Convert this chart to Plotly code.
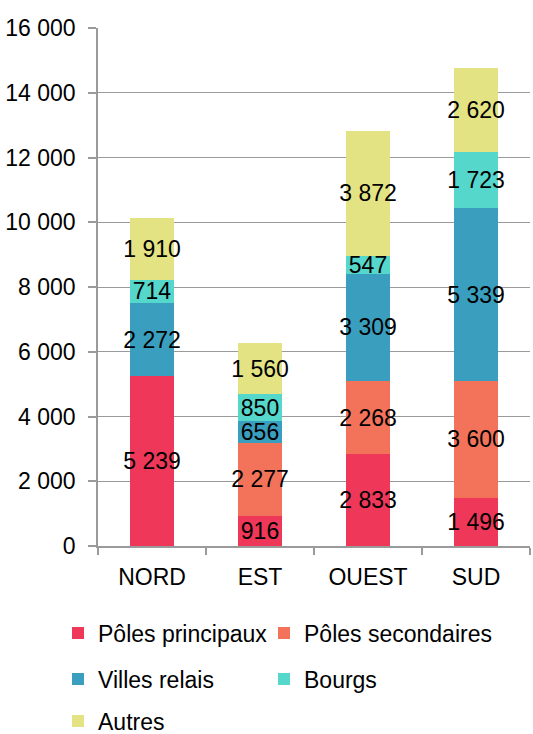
import plotly.graph_objects as go

# Regions on the x axis
categories = ["NORD", "EST", "OUEST", "SUD"]

# Stacked series (None = no segment)
series_names = ["Pôles principaux", "Pôles secondaires", "Villes relais", "Bourgs", "Autres"]
poles_principaux = [5239, 916, 2833, 1496]
poles_secondaires = [None, 2277, 2268, 3600]
villes_relais = [2272, 656, 3309, 5339]
bourgs = [714, 850, 547, 1723]
autres = [1910, 1560, 3872, 2620]

y_tick_values = [0, 2000, 4000, 6000, 8000, 10000, 12000, 14000, 16000]

colors = ["#EF3859", "#F2735A", "#3A9FBF", "#55D8CB", "#E3E384"]
values = [poles_principaux, poles_secondaires, villes_relais, bourgs, autres]

# Legend grid: two columns, three rows (pixel anchors of each entry)
legend_ids = ["legend", "legend2", "legend3", "legend4", "legend5"]
legend_px = [(58, 633), (264, 633), (58, 679), (264, 679), (58, 721)]

FONT = "Liberation Sans, Arial, sans-serif"
FS = 23

fig = go.Figure()
for name, vals, col, lg in zip(series_names, values, colors, legend_ids):
    fig.add_trace(go.Bar(
        name=name,
        x=categories,
        y=vals,
        marker=dict(color=col, line=dict(width=0)),
        texttemplate="%{y:,}",
        textposition="inside",
        insidetextanchor="middle",
        textangle=0,
        textfont=dict(color="black", size=FS, family=FONT),
        cliponaxis=False,
        showlegend=True,
        legend=lg,
    ))

W, H = 533, 734
ML, MR, MT, MB = 98, 3, 28, 188

legend_common = dict(
    visible=True,
    orientation="h",
    xref="container",
    yref="container",
    xanchor="left",
    yanchor="middle",
    font=dict(size=FS, family=FONT, color="black"),
    bgcolor="rgba(0,0,0,0)",
    itemclick=False,
)

legend_layout = {
    lg: dict(x=px / W, y=1 - py / H, **legend_common)
    for lg, (px, py) in zip(legend_ids, legend_px)
}

fig.update_layout(
    width=W,
    height=H,
    margin=dict(l=ML, r=MR, t=MT, b=MB),
    paper_bgcolor="white",
    plot_bgcolor="white",
    showlegend=True,
    barmode="stack",
    bargap=0.6,
    separators=", ",
    font=dict(family=FONT, size=FS, color="black"),
    uniformtext=dict(minsize=FS, mode="show"),
    xaxis=dict(
        showline=True,
        linecolor="#9a9a9a",
        linewidth=1.5,
        ticks="outside",
        tickson="boundaries",
        ticklen=7,
        tickcolor="#9a9a9a",
        tickwidth=1.5,
        showgrid=False,
        tickfont=dict(size=FS, family=FONT, color="black"),
        ticklabelstandoff=10,
    ),
    yaxis=dict(
        range=[0, 16000],
        tickvals=y_tick_values,
        tickformat=",",
        showline=True,
        linecolor="#9a9a9a",
        linewidth=1.5,
        ticks="outside",
        ticklen=8,
        tickcolor="#9a9a9a",
        tickwidth=1.5,
        showgrid=True,
        gridcolor="#9a9a9a",
        gridwidth=1,
        zeroline=False,
        tickfont=dict(size=FS, family=FONT, color="black"),
        ticklabelstandoff=8,
    ),
    **legend_layout,
)

fig.write_html("out.html")
